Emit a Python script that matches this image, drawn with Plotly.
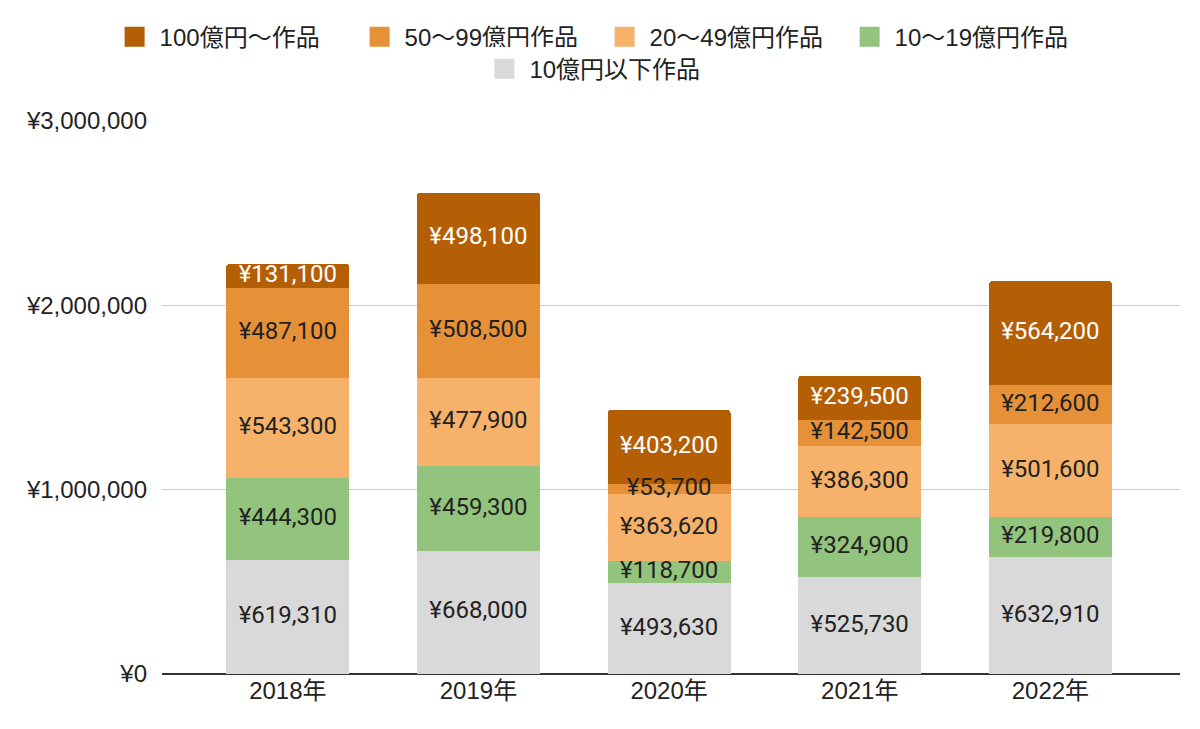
import plotly.graph_objects as go

years = ['2018年', '2019年', '2020年', '2021年', '2022年']

# stacked from the bottom up
under_10 = [619310, 668000, 493630, 525730, 632910]
from_10_to_19 = [444300, 459300, 118700, 324900, 219800]
from_20_to_49 = [543300, 477900, 363620, 386300, 501600]
from_50_to_99 = [487100, 508500, 53700, 142500, 212600]
over_100 = [131100, 498100, 403200, 239500, 564200]

series = [
    ('10億円以下作品', under_10, '#d9d9d9', '#222222'),
    ('10～19億円作品', from_10_to_19, '#93c47d', '#222222'),
    ('20～49億円作品', from_20_to_49, '#f6b26b', '#222222'),
    ('50～99億円作品', from_50_to_99, '#e69138', '#222222'),
    ('100億円～作品', over_100, '#b45f06', '#ffffff'),
]

label_font = 'Roboto, Noto Sans CJK JP, sans-serif'
axis_font = 'Liberation Sans, Arial, Noto Sans CJK JP, sans-serif'

fig = go.Figure()
base = [0] * len(years)
labels = []
for i, (name, vals, color, txt_color) in enumerate(series):
    fig.add_trace(go.Bar(
        name=name, x=years, y=vals, marker_color=color, marker_line_width=0,
        width=0.646, showlegend=False,
    ))
    # legend swatch: bigger square than the default bar symbol
    fig.add_trace(go.Scatter(
        name=name, x=[None], y=[None], mode='markers',
        marker=dict(symbol='square', size=22, color=color,
                    line=dict(width=4, color=color)),
        legend='legend2' if i == 0 else 'legend',
    ))
    # label sits at the middle of each segment
    mids = [b + v / 2 for b, v in zip(base, vals)]
    labels.append(go.Scatter(
        x=years, y=mids, mode='text', text=['¥{:,}'.format(v) for v in vals],
        textfont=dict(size=24, color=txt_color, family=label_font),
        showlegend=False, hoverinfo='skip',
    ))
    base = [b + v for b, v in zip(base, vals)]

for t in labels:
    fig.add_trace(t)

legend_common = dict(orientation='h', xanchor='center', xref='container',
                     yanchor='top', yref='container', traceorder='reversed',
                     font=dict(size=24, family=axis_font, color='#222222'),
                     itemsizing='trace', itemwidth=40)

fig.update_layout(
    width=1200, height=729,
    barmode='stack', barcornerradius=4,
    plot_bgcolor='white', paper_bgcolor='white',
    font=dict(family=axis_font, size=24, color='#222222'),
    margin=dict(l=154, r=28, t=113, b=63, autoexpand=False),
    legend=dict(x=0.493, y=0.991, entrywidth=190, entrywidthmode='pixels', **legend_common),
    legend2=dict(x=0.487, y=0.947, **legend_common),
    xaxis=dict(range=[-0.66, 4.68], showgrid=False, ticks='', automargin=False,
               tickfont=dict(size=24)),
    yaxis=dict(range=[0, 3000000], dtick=1000000, tickprefix='¥', tickformat=',',
               gridcolor='#cccccc', zeroline=True, zerolinecolor='#333333', zerolinewidth=2,
               ticklabelstandoff=14, automargin=False, tickfont=dict(size=24)),
)

fig.write_html('out.html')
